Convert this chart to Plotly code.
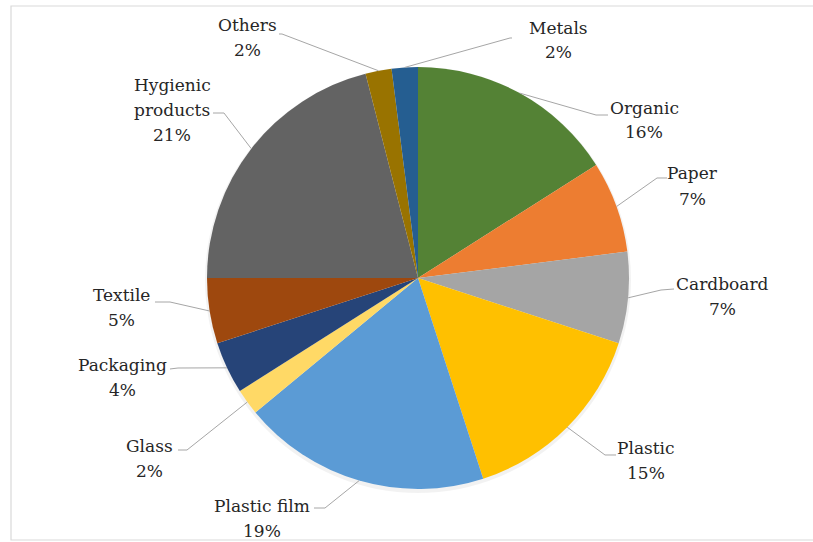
import math
import plotly.graph_objects as go

# Waste composition (share of total, %), clockwise from 12 o'clock
categories = ["Organic", "Paper", "Cardboard", "Plastic", "Plastic film", "Glass",
              "Packaging", "Textile", "Hygienic products", "Others", "Metals"]
shares = [16, 7, 7, 15, 19, 2, 4, 5, 21, 2, 2]
colors = ["#548235", "#ED7D31", "#A5A5A5", "#FFC000", "#5B9BD5", "#FFD966",
          "#264478", "#9E480E", "#636363", "#997300", "#255E91"]

W, H = 813, 542
CX, CY, R = 418, 278, 211  # pie centre and radius in pixels
FONT = "DejaVu Serif"
FONT_SIZE = 17
LINE_GAP = 25  # pixels between label text lines


def px(x):
    return x / W


def py(y):
    return 1 - y / H


# label block centres and leader-line bends (pixels), in category order
label_pos = {
    "Organic": (644, 120), "Paper": (692, 186), "Cardboard": (722, 296),
    "Plastic": (646, 460), "Plastic film": (262, 518), "Glass": (149, 458),
    "Packaging": (122, 377), "Textile": (121, 307), "Hygienic products": (172, 110),
    "Others": (247, 37), "Metals": (558, 40),
}
leader_bend = {
    "Organic": [(596, 115), (608, 115)], "Paper": [(657, 178), (667, 178)],
    "Cardboard": [(661, 290), (674, 289)], "Plastic": [(605, 455), (616, 455)],
    "Plastic film": [(325, 508), (314, 508)], "Glass": [(187, 450), (178, 450)],
    "Packaging": [(178, 368), (170, 369)], "Textile": [(170, 302), (155, 302)],
    "Hygienic products": [(224, 113), (213, 113)], "Others": [(282, 34), (279, 34)],
    "Metals": [(510, 38), (512, 38)],
}
label_lines = {"Hygienic products": ["Hygienic", "products"]}

fig = go.Figure()

# soft drop shadow under the pie
fig.add_trace(go.Pie(
    values=[1], marker=dict(colors=["rgba(0,0,0,0.05)"], line=dict(width=0)),
    textinfo="none", hoverinfo="skip", showlegend=False, sort=False,
    domain=dict(x=[px(CX - R - 2), px(CX + R + 2)], y=[py(CY + R + 4), py(CY - R)]),
))

fig.add_trace(go.Pie(
    labels=categories, values=shares, sort=False, direction="clockwise", rotation=0,
    marker=dict(colors=colors, line=dict(width=0)),
    textinfo="none", showlegend=False,
    domain=dict(x=[px(CX - R), px(CX + R)], y=[py(CY + R), py(CY - R)]),
))

total = sum(shares)
shapes = [dict(type="rect", xref="paper", yref="paper",
               x0=px(11), x1=1.05, y0=py(540), y1=py(6),
               line=dict(color="#D9D9D9", width=1.2), layer="below")]
annotations = []
cum = 0
for name, v in zip(categories, shares):
    mid = (cum + v / 2) / total * 360
    cum += v
    ex = CX + R * math.sin(math.radians(mid))
    ey = CY - R * math.cos(math.radians(mid))
    pts = [(ex, ey)] + leader_bend[name]
    path = "M " + " L ".join(f"{px(x):.5f},{py(y):.5f}" for x, y in pts)
    shapes.append(dict(type="path", xref="paper", yref="paper", path=path,
                       line=dict(color="#A6A6A6", width=1)))
    lx, ly = label_pos[name]
    lines = label_lines.get(name, [name]) + [f"{v}%"]
    n = len(lines)
    for i, t in enumerate(lines):
        yy = ly + (i - (n - 1) / 2) * LINE_GAP
        annotations.append(dict(
            x=px(lx), y=py(yy), xref="paper", yref="paper", showarrow=False,
            text=t, align="center", xanchor="center", yanchor="middle",
            font=dict(family=FONT, size=FONT_SIZE, color="#262626"),
        ))

fig.update_layout(
    width=W, height=H, margin=dict(l=0, r=0, t=0, b=0),
    paper_bgcolor="white", plot_bgcolor="white",
    font=dict(family=FONT),
    shapes=shapes, annotations=annotations,
)

fig.write_html("out.html")
